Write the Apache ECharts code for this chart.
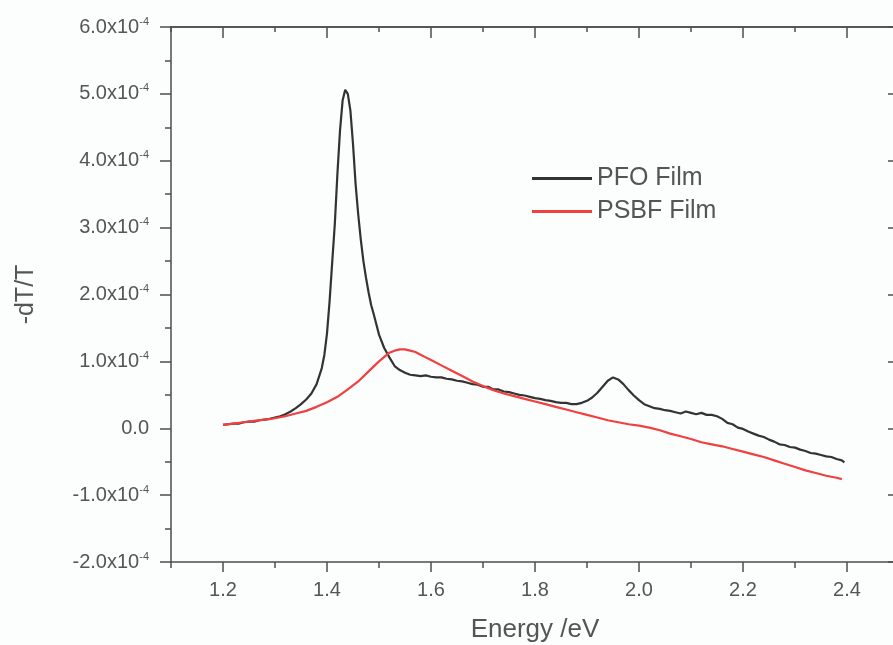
<!DOCTYPE html>
<html>
<head>
<meta charset="utf-8">
<script src="https://cdn.jsdelivr.net/npm/echarts@6/dist/echarts.min.js"></script>
<style>
  html, body { margin: 0; padding: 0; background: #fcfdfd; }
  #chart { width: 893px; height: 645px; }
</style>
</head>
<body>
<div id="chart"></div>
<script>
// Photo-induced absorption spectra (-dT/T, in units of 1e-4) versus photon energy.
const pfoEnergy = [
  1.20, 1.21, 1.22, 1.23, 1.24, 1.25, 1.26, 1.27, 1.28, 1.29,
  1.30, 1.31, 1.32, 1.33, 1.34, 1.35, 1.36, 1.37, 1.38, 1.39,
  1.395, 1.40, 1.405, 1.41, 1.415, 1.42, 1.425, 1.43, 1.435, 1.44,
  1.445, 1.45, 1.455, 1.46, 1.465, 1.47, 1.475, 1.48, 1.485, 1.49,
  1.495, 1.50, 1.51, 1.52, 1.53, 1.54, 1.55, 1.56, 1.57, 1.58,
  1.59, 1.60, 1.61, 1.62, 1.63, 1.64, 1.65, 1.66, 1.67, 1.68,
  1.69, 1.70, 1.71, 1.72, 1.73, 1.74, 1.75, 1.76, 1.77, 1.78,
  1.79, 1.80, 1.81, 1.82, 1.83, 1.84, 1.85, 1.86, 1.87, 1.88,
  1.89, 1.90, 1.91, 1.92, 1.93, 1.94, 1.95, 1.96, 1.97, 1.98,
  1.99, 2.00, 2.01, 2.02, 2.03, 2.04, 2.05, 2.06, 2.07, 2.08,
  2.09, 2.10, 2.11, 2.12, 2.13, 2.14, 2.15, 2.16, 2.17, 2.18,
  2.19, 2.20, 2.21, 2.22, 2.23, 2.24, 2.25, 2.26, 2.27, 2.28,
  2.29, 2.30, 2.31, 2.32, 2.33, 2.34, 2.35, 2.36, 2.37, 2.38,
  2.39, 2.395
];
const pfoSignal = [
  0.05, 0.06, 0.07, 0.07, 0.09, 0.10, 0.10, 0.12, 0.13, 0.14,
  0.16, 0.18, 0.21, 0.25, 0.30, 0.36, 0.43, 0.52, 0.66, 0.90,
  1.10, 1.42, 1.90, 2.48, 3.05, 3.80, 4.45, 4.90, 5.06, 5.00,
  4.75, 4.25, 3.65, 3.20, 2.82, 2.50, 2.25, 2.03, 1.84, 1.70,
  1.55, 1.40, 1.20, 1.06, 0.93, 0.87, 0.83, 0.80, 0.79, 0.78,
  0.79, 0.77, 0.76, 0.76, 0.74, 0.73, 0.71, 0.70, 0.68, 0.66,
  0.65, 0.62, 0.62, 0.58, 0.58, 0.55, 0.54, 0.52, 0.50, 0.49,
  0.47, 0.45, 0.44, 0.42, 0.41, 0.39, 0.38, 0.38, 0.36, 0.36,
  0.38, 0.41, 0.46, 0.53, 0.62, 0.71, 0.76, 0.73, 0.66, 0.57,
  0.49, 0.42, 0.36, 0.33, 0.30, 0.29, 0.27, 0.26, 0.24, 0.22,
  0.25, 0.23, 0.21, 0.23, 0.20, 0.20, 0.18, 0.14, 0.08, 0.06,
  0.01, -0.01, -0.05, -0.08, -0.11, -0.13, -0.17, -0.20, -0.24, -0.25,
  -0.28, -0.29, -0.32, -0.34, -0.37, -0.38, -0.40, -0.42, -0.43, -0.46,
  -0.48, -0.51
];
const psbfEnergy = [
  1.20, 1.22, 1.24, 1.26, 1.28, 1.30, 1.32, 1.34, 1.36, 1.38,
  1.40, 1.42, 1.44, 1.46, 1.48, 1.50, 1.52, 1.53, 1.54, 1.55,
  1.56, 1.57, 1.58, 1.59, 1.60, 1.62, 1.64, 1.66, 1.68, 1.70,
  1.72, 1.74, 1.76, 1.78, 1.80, 1.82, 1.84, 1.86, 1.88, 1.90,
  1.92, 1.94, 1.96, 1.98, 2.00, 2.02, 2.04, 2.06, 2.08, 2.10,
  2.12, 2.14, 2.16, 2.18, 2.20, 2.22, 2.24, 2.26, 2.28, 2.30,
  2.32, 2.34, 2.36, 2.38, 2.39
];
const psbfSignal = [
  0.05, 0.07, 0.09, 0.11, 0.13, 0.15, 0.18, 0.22, 0.26, 0.32,
  0.39, 0.47, 0.58, 0.70, 0.85, 1.00, 1.13, 1.16, 1.18, 1.18,
  1.16, 1.14, 1.10, 1.06, 1.02, 0.94, 0.86, 0.78, 0.70, 0.63,
  0.57, 0.52, 0.48, 0.44, 0.40, 0.36, 0.32, 0.28, 0.24, 0.20,
  0.16, 0.12, 0.09, 0.06, 0.04, 0.01, -0.03, -0.08, -0.12, -0.16,
  -0.21, -0.24, -0.27, -0.31, -0.35, -0.39, -0.43, -0.48, -0.53, -0.58,
  -0.63, -0.67, -0.71, -0.74, -0.76
];
const seriesNames = ['PFO Film', 'PSBF Film'];
const xMajorTicks = [1.2, 1.4, 1.6, 1.8, 2.0, 2.2, 2.4];
const xMinorTicks = [1.1, 1.3, 1.5, 1.7, 1.9, 2.1, 2.3, 2.5];
const yTitle = '-dT/T';
const xTitle = 'Energy /eV';

const FONT = "'Liberation Sans', Arial, sans-serif";
const TEXT = '#555555';
const AXIS = '#4d4d4d';

const pairs = (xs, ys) => xs.map((x, i) => [x, ys[i]]);

function xAxisDef(position, ticks, len, inside, labels) {
  return {
    type: 'value', position: position, min: 1.1, max: 2.5,
    axisLine: { show: labels || position === 'top', onZero: false,
                lineStyle: { color: AXIS, width: 1.5 } },
    axisTick: { show: true, customValues: ticks, length: len, inside: inside,
                lineStyle: { color: AXIS, width: 1.5 } },
    axisLabel: labels ? {
      show: true, customValues: ticks, margin: 18, fontSize: 20, color: TEXT, fontFamily: FONT,
      formatter: v => v.toFixed(1)
    } : { show: false },
    splitLine: { show: false },
    name: labels ? xTitle : '',
    nameLocation: 'middle', nameGap: 55,
    nameTextStyle: { fontSize: 26, color: TEXT, fontFamily: FONT }
  };
}

function yAxisDef(position, inside, labels) {
  return {
    type: 'value', position: position, min: -2, max: 6, interval: 1,
    axisLine: { show: true, onZero: false, lineStyle: { color: AXIS, width: 1.5 } },
    axisTick: { show: true, length: 11, inside: inside, lineStyle: { color: AXIS, width: 1.5 } },
    minorTick: { show: true, splitNumber: 2, length: 6, lineStyle: { color: AXIS, width: 1.5 } },
    splitLine: { show: false },
    axisLabel: labels ? {
      show: true, margin: 22, color: TEXT, fontFamily: FONT,
      formatter: v => v === 0 ? '{m|0.0}' : '{m|' + v.toFixed(1) + 'x10}{s|-4}',
      rich: {
        m: { fontSize: 20, lineHeight: 22, color: TEXT, fontFamily: FONT },
        s: { fontSize: 11, verticalAlign: 'top', lineHeight: 12, color: TEXT, fontFamily: FONT }
      }
    } : { show: false },
    name: labels ? yTitle : '',
    nameLocation: 'middle', nameGap: 132, nameRotate: 90,
    nameTextStyle: { fontSize: 25, color: TEXT, fontFamily: FONT }
  };
}

const chart = echarts.init(document.getElementById('chart'), null, { renderer: 'canvas' });
chart.setOption({
  animation: false,
  backgroundColor: '#fcfdfd',
  textStyle: { fontFamily: FONT },
  grid: { left: 171, top: 27, width: 728, height: 535, containLabel: false, outerBoundsMode: 'none' },
  legend: {
    orient: 'vertical', left: 532, top: 166, padding: 0,
    itemWidth: 60, itemHeight: 3, itemGap: 8, icon: 'rect',
    textStyle: { fontSize: 25, color: TEXT, fontFamily: FONT },
    data: seriesNames
  },
  xAxis: [
    xAxisDef('bottom', xMajorTicks, 10, false, true),
    xAxisDef('bottom', xMinorTicks, 6, false, false),
    xAxisDef('top', xMajorTicks, 11, true, false),
    xAxisDef('top', xMinorTicks, 5, true, false)
  ],
  yAxis: [
    yAxisDef('left', false, true),
    yAxisDef('right', true, false)
  ],
  series: [
    {
      name: seriesNames[0], type: 'line', xAxisIndex: 0, yAxisIndex: 0,
      showSymbol: false, symbol: 'none', smooth: false,
      itemStyle: { color: '#333333' },
      lineStyle: { color: '#333333', width: 2.2 },
      data: pairs(pfoEnergy, pfoSignal)
    },
    {
      name: seriesNames[1], type: 'line', xAxisIndex: 0, yAxisIndex: 0,
      showSymbol: false, symbol: 'none', smooth: false,
      itemStyle: { color: '#f0403f' },
      lineStyle: { color: '#f0403f', width: 2.2 },
      data: pairs(psbfEnergy, psbfSignal)
    }
  ]
});
</script>
</body>
</html>
